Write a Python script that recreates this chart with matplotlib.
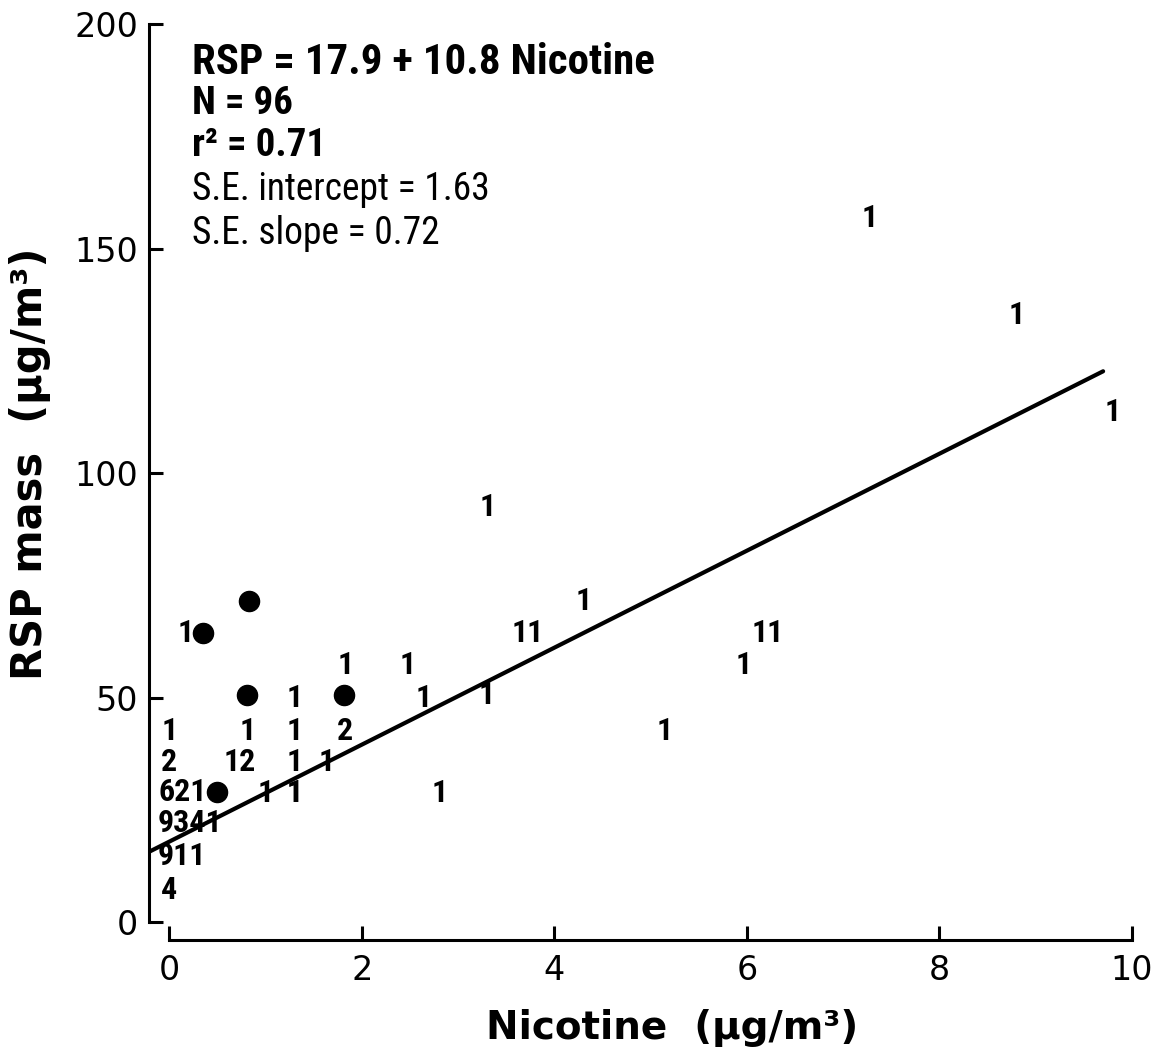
import numpy as np
import matplotlib.pyplot as plt
from matplotlib import font_manager

# posisi angka (jumlah pengamatan) pada plot
label_x = [0.0, 0.0, 0.135, 0.22, 0.135, 0.0, 0.17,
           0.81, 1.30, 1.30, 1.30, 1.30, 1.83, 1.83, 0.73, 1.64,
           1.0, 1.30, 2.81, 2.48, 2.64, 3.30, 3.72, 4.30, 3.31,
           6.22, 5.97, 5.15, 7.28, 8.80, 9.80]
label_y = [42.6, 35.6, 29.0, 22.0, 14.6, 7.2, 64.4,
           42.6, 50.0, 42.6, 35.6, 28.8, 57.2, 42.6, 35.6, 35.6,
           28.8, 28.8, 28.8, 57.2, 50.0, 50.6, 64.4, 71.5, 92.4,
           64.4, 57.2, 42.6, 156.8, 135.2, 113.6]
label_txt = ["1", "2", "621", "9341", "911", "4", "1",
             "1", "1", "1", "1", "1", "1", "2", "12", "1",
             "1", "1", "1", "1", "1", "1", "11", "1", "1",
             "11", "1", "1", "1", "1", "1"]

# titik bulat
dot_x = [0.35, 0.83, 0.81, 1.82, 0.50]
dot_y = [64.4, 71.5, 50.6, 50.6, 29.0]

# garis regresi
intercept = 17.9
slope = 10.8
line_x = [-0.2, 9.7]

# cari font sempit yang tersedia
installed = {f.name for f in font_manager.fontManager.ttflist}
narrow = [f for f in ['DejaVu Sans Condensed', 'Liberation Sans Narrow', 'Roboto Condensed',
                      'Open Sans Condensed', 'Noto Sans Condensed'] if f in installed]
narrow = narrow + ['DejaVu Sans']

fig = plt.figure(figsize=(11.56, 10.47), dpi=100)
ax = fig.add_axes([149 / 1156, 1 - 940 / 1047, 983 / 1156, 916 / 1047])
ax.set_xlim(-0.21, 10.0)
ax.set_ylim(-4, 200)

ax.plot(line_x, [intercept + slope * v for v in line_x], color='black', lw=3, solid_capstyle='round')
ax.scatter(dot_x, dot_y, s=210, color='black', zorder=3)

for xx, yy, tt in zip(label_x, label_y, label_txt):
    ax.text(xx, yy, tt, ha='center', va='center', fontsize=23, fontweight='bold',
            family=narrow, fontstretch='condensed', zorder=4)

# spines
for s in ['top', 'right']:
    ax.spines[s].set_visible(False)
ax.spines['left'].set_bounds(0, 200)
ax.spines['bottom'].set_bounds(0, 10)
ax.spines['left'].set_linewidth(2.2)
ax.spines['bottom'].set_linewidth(2.2)

ax.set_xticks([0, 2, 4, 6, 8, 10])
ax.set_yticks([0, 50, 100, 150, 200])
ax.tick_params(axis='x', direction='in', length=10, width=2.2, labelsize=24, pad=10)
ax.tick_params(axis='y', direction='in', length=10, width=2.2, labelsize=24, pad=8)

ax.set_xlabel("Nicotine  (μg/m³)", fontsize=28, fontweight='bold')
ax.xaxis.set_label_coords(0.532, -0.075)
ax.set_ylabel("RSP mass  (μg/m³)", fontsize=30, fontweight='bold')
ax.yaxis.set_label_coords(-0.10, 0.52)

# teks persamaan
kw = dict(family=narrow, fontstretch='condensed', va='center')
fig.text(192 / 1156, 1 - 62 / 1047, "RSP = 17.9 + 10.8 Nicotine", fontsize=31, fontweight='bold', **kw)
fig.text(192 / 1156, 1 - 103 / 1047, "N = 96", fontsize=28, fontweight='bold', **kw)
fig.text(192 / 1156, 1 - 145 / 1047, "r² = 0.71", fontsize=28, fontweight='bold', **kw)
fig.text(192 / 1156, 1 - 189 / 1047, "S.E. intercept = 1.63", fontsize=27, **kw)
fig.text(192 / 1156, 1 - 233 / 1047, "S.E. slope = 0.72", fontsize=27, **kw)

plt.savefig("out.png", dpi=100)
